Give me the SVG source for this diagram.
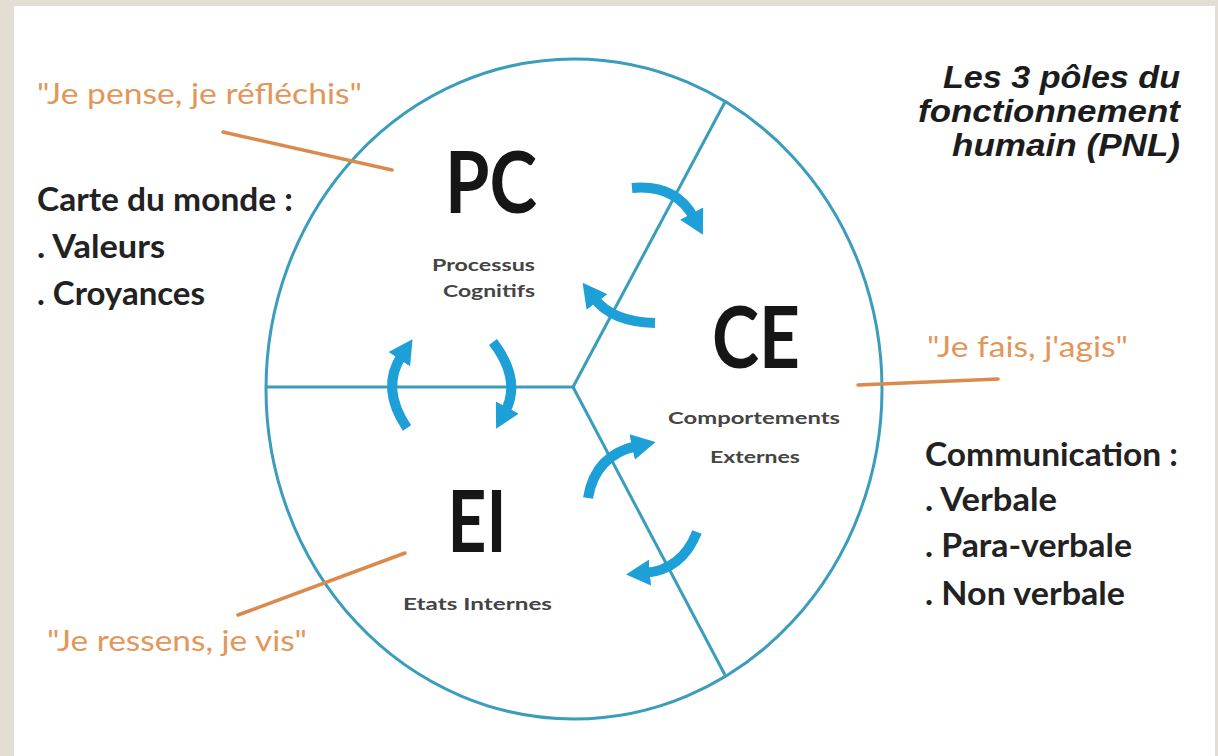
<svg xmlns="http://www.w3.org/2000/svg" width="1218" height="756" viewBox="0 0 1218 756">
<style>
.spoke{fill:none;stroke:#3a9dbc;stroke-width:3}
.arr{fill:none;stroke:#1d9fd8;stroke-width:10}
.lead{stroke:#d98a4c;stroke-width:3.5;stroke-linecap:round}
.q{font-family:Lato,"Open Sans",sans-serif;font-size:29px;fill:#e3965a}
.b{font-family:Lato,"Open Sans",sans-serif;font-size:32px;font-weight:bold;fill:#222}
.big{font-family:Lato,"Open Sans",sans-serif;font-size:86px;font-weight:bold;fill:#161616;text-anchor:middle}
.sm{font-family:Lato,"Open Sans",sans-serif;font-size:17px;font-weight:bold;fill:#444}
.t{font-family:"Liberation Sans",Arial,sans-serif;font-size:32px;font-weight:bold;font-style:italic;fill:#1c1c1c;text-anchor:end}
</style>
<defs>
<marker id="ah" markerUnits="userSpaceOnUse" viewBox="0 0 24 26" markerWidth="24" markerHeight="26" refX="5" refY="13" orient="auto">
<path d="M0,0 L24,13 L0,26 z" fill="#1d9fd8"/>
</marker>
</defs>
<rect x="0" y="0" width="1218" height="756" fill="#e3ddd3"/>
<rect x="14" y="6" width="1201" height="750" fill="#ffffff"/>
<g id="connectors">
<ellipse class="spoke" cx="574" cy="389" rx="308" ry="330"/>
<line class="spoke" x1="266" y1="387" x2="573" y2="387"/>
<line class="spoke" x1="573" y1="387" x2="725" y2="102"/>
<line class="spoke" x1="573" y1="387" x2="725" y2="675"/>
<path class="arr" d="M632,188 Q676,184 694,218" marker-end="url(#ah)"/>
<path class="arr" d="M655,323 Q612,322 594,298" marker-end="url(#ah)"/>
<path class="arr" d="M407,428 Q380,388 402,355" marker-end="url(#ah)"/>
<path class="arr" d="M493,342 Q522,380 505,412" marker-end="url(#ah)"/>
<path class="arr" d="M588,498 Q595,455 637,446" marker-end="url(#ah)"/>
<path class="arr" d="M697,532 Q682,570 645,573" marker-end="url(#ah)"/>
<line class="lead" x1="223" y1="132" x2="392" y2="170"/>
<line class="lead" x1="858" y1="385" x2="998" y2="379"/>
<line class="lead" x1="238" y1="615" x2="405" y2="553"/>
</g>
<g id="node-pc">
<text class="big" x="491" y="213" textLength="92" lengthAdjust="spacingAndGlyphs">PC</text>
<text class="sm" x="432" y="271" textLength="103" lengthAdjust="spacingAndGlyphs">Processus</text>
<text class="sm" x="443" y="297" textLength="92" lengthAdjust="spacingAndGlyphs">Cognitifs</text>
</g>
<g id="node-ce">
<text class="big" x="756" y="368" textLength="88" lengthAdjust="spacingAndGlyphs">CE</text>
<text class="sm" x="668" y="424" textLength="172" lengthAdjust="spacingAndGlyphs">Comportements</text>
<text class="sm" x="710" y="463" textLength="90" lengthAdjust="spacingAndGlyphs">Externes</text>
</g>
<g id="node-ei">
<text class="big" x="477" y="552" textLength="59" lengthAdjust="spacingAndGlyphs">EI</text>
<text class="sm" x="403" y="610" textLength="149" lengthAdjust="spacingAndGlyphs">Etats Internes</text>
</g>
<g id="title">
<text class="t" x="1180" y="88" textLength="237" lengthAdjust="spacingAndGlyphs">Les 3 pôles du</text>
<text class="t" x="1180" y="122" textLength="262" lengthAdjust="spacingAndGlyphs">fonctionnement</text>
<text class="t" x="1180" y="156" textLength="228" lengthAdjust="spacingAndGlyphs">humain (PNL)</text>
</g>
<g id="note-pc">
<text class="q" x="37" y="104" textLength="325" lengthAdjust="spacingAndGlyphs">"Je pense, je réfléchis"</text>
<text class="b" x="37" y="211" textLength="256" lengthAdjust="spacingAndGlyphs">Carte du monde :</text>
<text class="b" x="37" y="258" textLength="128" lengthAdjust="spacingAndGlyphs">. Valeurs</text>
<text class="b" x="37" y="305" textLength="168" lengthAdjust="spacingAndGlyphs">. Croyances</text>
</g>
<g id="note-ce">
<text class="q" x="927" y="357" textLength="201" lengthAdjust="spacingAndGlyphs">"Je fais, j'agis"</text>
<text class="b" x="925" y="466" textLength="253" lengthAdjust="spacingAndGlyphs">Communication :</text>
<text class="b" x="925" y="511" textLength="132" lengthAdjust="spacingAndGlyphs">. Verbale</text>
<text class="b" x="925" y="557" textLength="207" lengthAdjust="spacingAndGlyphs">. Para-verbale</text>
<text class="b" x="925" y="605" textLength="200" lengthAdjust="spacingAndGlyphs">. Non verbale</text>
</g>
<g id="note-ei">
<text class="q" x="47" y="651" textLength="260" lengthAdjust="spacingAndGlyphs">"Je ressens, je vis"</text>
</g>
</svg>
